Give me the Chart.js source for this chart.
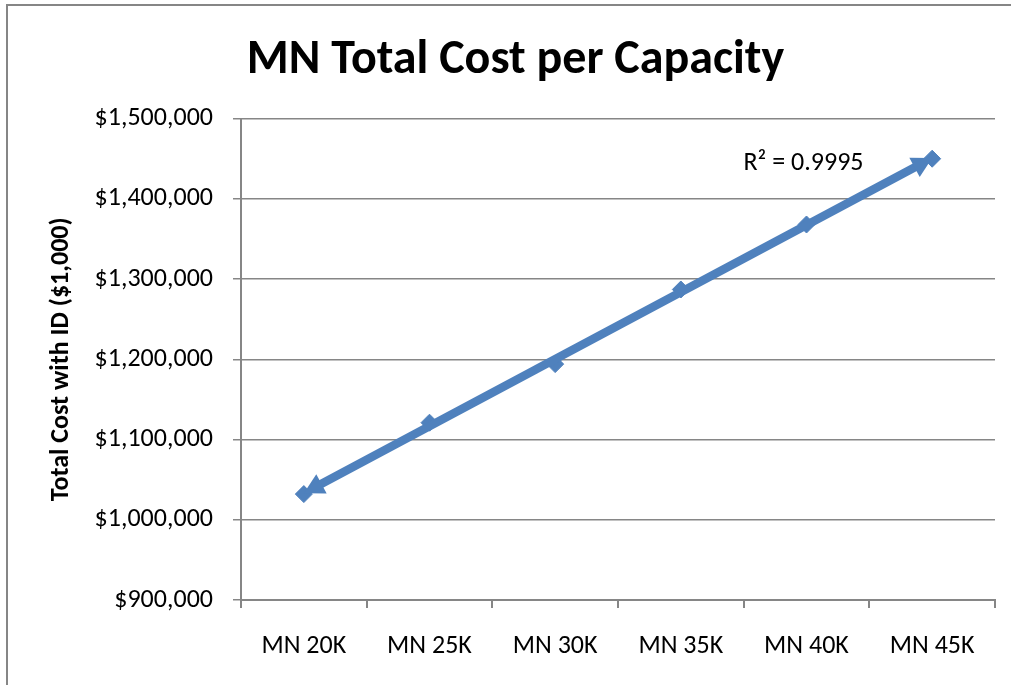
<!DOCTYPE html>
<html><head><meta charset="utf-8">
<script src="https://cdn.jsdelivr.net/npm/chart.js@4/dist/chart.umd.min.js"></script>
<style>html,body{margin:0;padding:0;background:#fff}#wrap{width:1011px;height:685px;position:relative}</style>
</head><body><div id="wrap"><canvas id="c" width="1011" height="685"></canvas></div>
<script>
const categories = ['MN 20K','MN 25K','MN 30K','MN 35K','MN 40K','MN 45K'];
const totalCost = [1032000,1121000,1194000,1287000,1368000,1450000];
const trendEnds = [1033000,1451000];
const yTicks = [900000,1000000,1100000,1200000,1300000,1400000,1500000];
const chartTitle = 'MN Total Cost per Capacity';
const yTitle = 'Total Cost with ID ($1,000)';
const rSquaredLabel = 'R\u00B2 = 0.9995';

const FONT = 'Carlito, Lato, "Open Sans", sans-serif';
const BLUE = '#4f81bd';
const GRAY = '#868686';

const borderPlugin = {
  id: 'outerBorder',
  beforeDraw(chart) {
    const ctx = chart.ctx;
    ctx.save();
    ctx.fillStyle = '#fff';
    ctx.fillRect(0, 0, chart.width, chart.height);
    ctx.strokeStyle = GRAY;
    ctx.lineWidth = 2;
    ctx.strokeRect(7, 5, chart.width + 20, chart.height + 20);
    ctx.restore();
  }
};

const trendPlugin = {
  id: 'trendArrows',
  afterDatasetsDraw(chart) {
    const meta = chart.getDatasetMeta(1);
    if (!meta || meta.data.length < 2) return;
    const a = meta.data[0], b = meta.data[1];
    const dx = b.x - a.x, dy = b.y - a.y;
    const len = Math.hypot(dx, dy);
    const ux = dx / len, uy = dy / len;
    const L = 20, W = 11;
    const ctx = chart.ctx;
    ctx.save();
    ctx.strokeStyle = BLUE;
    ctx.fillStyle = BLUE;
    ctx.lineWidth = 8.5;
    ctx.lineCap = 'butt';
    ctx.beginPath();
    ctx.moveTo(a.x + ux * (L - 2), a.y + uy * (L - 2));
    ctx.lineTo(b.x - ux * (L - 2), b.y - uy * (L - 2));
    ctx.stroke();
    const arrow = (tx, ty, sx, sy) => {
      const bx = tx - sx * L, by = ty - sy * L;
      ctx.beginPath();
      ctx.moveTo(tx, ty);
      ctx.lineTo(bx - sy * W, by + sx * W);
      ctx.lineTo(bx + sy * W, by - sx * W);
      ctx.closePath();
      ctx.fill();
    };
    arrow(b.x, b.y, ux, uy);
    arrow(a.x, a.y, -ux, -uy);
    const xs = chart.scales.x, ys = chart.scales.y;
    ctx.fillStyle = '#000';
    ctx.font = '26px ' + FONT;
    ctx.textAlign = 'center';
    ctx.textBaseline = 'middle';
    ctx.fillText(rSquaredLabel, xs.getPixelForValue(4) - 3, ys.getPixelForValue(trendEnds[1]) + 6);
    ctx.restore();
  }
};

new Chart(document.getElementById('c'), {
  type: 'line',
  data: {
    labels: categories,
    datasets: [{
      label: 'Total Cost',
      data: totalCost,
      showLine: false,
      pointStyle: 'rectRot',
      pointRadius: 8.5,
      pointHoverRadius: 8.5,
      pointBackgroundColor: BLUE,
      pointBorderColor: BLUE,
      borderColor: BLUE,
      backgroundColor: BLUE,
      order: 0
    }, {
      label: 'Linear trend',
      data: [{x: categories[0], y: trendEnds[0]}, {x: categories[categories.length - 1], y: trendEnds[1]}],
      showLine: false,
      pointRadius: 0,
      borderColor: BLUE,
      order: 1
    }]
  },
  options: {
    responsive: false,
    animation: false,
    events: [],
    layout: { padding: { left: 20, right: 0, top: 0, bottom: 0 } },
    plugins: {
      legend: { display: false },
      tooltip: { enabled: false },
      title: {
        display: true,
        text: chartTitle,
        color: '#000',
        font: { family: FONT, size: 48, weight: 'bold', lineHeight: 1.2 },
        padding: { top: 32, bottom: 29 }
      }
    },
    scales: {
      x: {
        type: 'category',
        offset: true,
        border: { display: true, color: GRAY, width: 2 },
        grid: { display: true, drawOnChartArea: false, drawTicks: true, tickLength: 8, color: GRAY, lineWidth: 2, offset: true },
        ticks: { color: '#000', font: { family: FONT, size: 26 }, padding: 23, maxRotation: 0 },
        afterFit(s) { s.height = 85; }
      },
      y: {
        min: 900000, max: 1500000,
        afterBuildTicks(s) { s.ticks = yTicks.map(v => ({ value: v })); },
        border: { display: true, color: GRAY, width: 2 },
        grid: { color: GRAY, lineWidth: 1.5, tickLength: 8, drawTicks: true },
        ticks: {
          color: '#000', font: { family: FONT, size: 26 }, padding: 20,
          callback: v => '$' + Number(v).toLocaleString('en-US')
        },
        title: {
          display: true, text: yTitle, color: '#000',
          font: { family: FONT, size: 26, weight: 'bold', lineHeight: 1.2 },
          padding: { top: 26, bottom: 0 }
        },
        afterFit(s) { s.width = 221; }
      },
      yRightSpacer: {
        type: 'linear',
        position: 'right',
        display: true,
        grid: { display: false, drawTicks: false },
        border: { display: false },
        ticks: { display: false },
        afterFit(s) { s.width = 16; }
      }
    }
  },
  plugins: [borderPlugin, trendPlugin]
});
</script>
</body></html>
